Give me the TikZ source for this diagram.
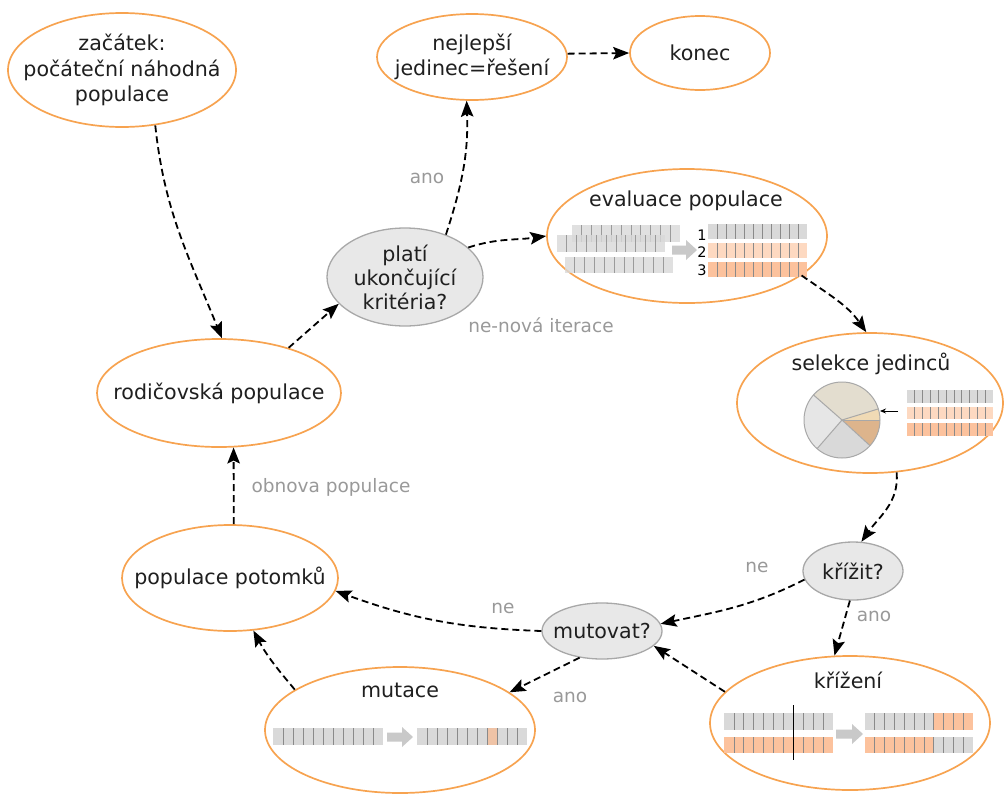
\documentclass[tikz,border=0pt]{standalone}
\usepackage{fontspec}
\setmainfont{DejaVu Sans}
\usetikzlibrary{shapes.geometric,arrows.meta}
\definecolor{orng}{HTML}{F7A350}
\definecolor{qfill}{HTML}{E8E8E8}
\definecolor{qline}{HTML}{A8A8A8}
\definecolor{lbl}{HTML}{999999}
\definecolor{cg}{HTML}{D9D9D9}
\definecolor{cp}{HTML}{FDD9C1}
\definecolor{co}{HTML}{FCC29D}
\definecolor{cmut}{HTML}{EFC3A6}
\definecolor{sepc}{HTML}{8A8A8A}
\definecolor{barr}{HTML}{C9C9C9}
\definecolor{pa}{HTML}{E3DDCF}
\definecolor{pb}{HTML}{F0DAB5}
\definecolor{pc}{HTML}{DDB48C}
\definecolor{pd}{HTML}{D9D9D9}
\definecolor{pe}{HTML}{E6E6E6}
\newcommand{\chrbar}[5]{%
  \foreach \cc [count=\ii from 0] in {#5} {
    \fill[fill=\cc] ({#1+\ii*#3/11},{-#2}) rectangle ++({#3/11},{-#4});
  }
  \foreach \ii in {1,...,10} {
    \draw[sepc, line width=0.7pt] ({#1+\ii*#3/11},{-#2}) -- ++(0,{-#4});
  }
}
\newcommand{\blockarr}[3]{%
  \fill[barr] (#1,{-#3+4.5}) -- ({#2-11},{-#3+4.5}) -- ({#2-11},{-#3+10}) -- (#2,{-#3})
   -- ({#2-11},{-#3-10}) -- ({#2-11},{-#3-4.5}) -- (#1,{-#3-4.5}) -- cycle;}
\tikzset{
  box/.style={ellipse, draw=orng, line width=1.7pt, fill=white, inner sep=0pt},
  ques/.style={ellipse, draw=qline, fill=qfill, line width=1.3pt, inner sep=0pt},
  txt/.style={align=center, text=black!88, font=\fontsize{20.6}{25.5}\selectfont, inner sep=0pt},
  ttl/.style={anchor=base, text=black!88, font=\fontsize{20.6}{25}\selectfont, inner sep=0pt},
  arr/.style={dash pattern=on 7pt off 4pt, line width=1.8pt, -{Stealth[length=16pt,width=12.5pt,inset=3pt]}},
  lab/.style={text=lbl, font=\fontsize{18.5}{22}\selectfont, inner sep=0pt},
  num/.style={anchor=base, font=\fontsize{14.5}{16}\selectfont, inner sep=0pt},
}
\begin{document}
\begin{tikzpicture}[x=1pt,y=1pt]
\useasboundingbox (0,0) rectangle (1004,-793);
% ellipses
\node[box, minimum width=228pt, minimum height=114pt] (start) at (122,-70) {};
\node[box, minimum width=244pt, minimum height=108pt] (rodic) at (219,-393) {};
\node[box, minimum width=190pt, minimum height=86pt] (best) at (472,-57) {};
\node[box, minimum width=140pt, minimum height=74pt] (konec) at (700,-53) {};
\node[ques, minimum width=156pt, minimum height=98pt] (plati) at (405,-277) {};
\node[box, minimum width=280pt, minimum height=134pt] (eval) at (687,-236) {};
\node[box, minimum width=266pt, minimum height=140pt] (sel) at (870,-403) {};
\node[ques, minimum width=100pt, minimum height=58pt] (krizit) at (853,-571) {};
\node[ques, minimum width=120pt, minimum height=56pt] (mutovat) at (602,-631) {};
\node[box, minimum width=280pt, minimum height=134pt] (krizeni) at (850,-723) {};
\node[box, minimum width=270pt, minimum height=126pt] (mutace) at (400,-730) {};
\node[box, minimum width=216pt, minimum height=106pt] (potomku) at (230,-578) {};
% texts
\node[txt] (startT) at (start) {začátek:\\počáteční náhodná\\populace};
\node[txt] (rodicT) at (rodic) {rodičovská populace};
\node[txt] (bestT) at (best) {nejlepší\\jedinec=řešení};
\node[txt] (konecT) at (konec) {konec};
\node[txt, font=\fontsize{20.6}{24}\selectfont] (platiT) at (plati) {platí\\ukončující\\kritéria?};
\node[txt] (krizitT) at (krizit) {křížit?};
\node[txt] (mutovatT) at (mutovat) {mutovat?};
\node[txt] (potomkuT) at (potomku) {populace potomků};
\node[ttl] (evalT) at (686,-206) {evaluace populace};
\node[ttl] (selT) at (871,-370) {selekce jedinců};
\node[ttl] (krizeniT) at (848,-688) {křížení};
\node[ttl] (mutaceT) at (400,-697) {mutace};
% evaluation graphics
\begin{scope}[opacity=0.8]
\chrbar{572}{225}{108}{17}{cg,cg,cg,cg,cg,cg,cg,cg,cg,cg,cg}
\chrbar{557}{235}{108}{17}{cg,cg,cg,cg,cg,cg,cg,cg,cg,cg,cg}
\chrbar{565}{257}{108}{16}{cg,cg,cg,cg,cg,cg,cg,cg,cg,cg,cg}
\end{scope}
\blockarr{672}{697}{250}
\node[num] (n1) at (702,-240) {1};
\node[num] (n2) at (702,-257) {2};
\node[num] (n3) at (702,-275) {3};
\chrbar{708}{224}{99}{15}{cg,cg,cg,cg,cg,cg,cg,cg,cg,cg,cg}
\chrbar{708}{243}{99}{15}{cp,cp,cp,cp,cp,cp,cp,cp,cp,cp,cp}
\chrbar{708}{262}{99}{15}{co,co,co,co,co,co,co,co,co,co,co}
% selection graphics
\begin{scope}[shift={(842,-420)}]
\fill[pa] (0,0) -- (17:38) arc[start angle=17,end angle=138.7,radius=38] -- cycle;
\fill[pb] (0,0) -- (0:38) arc[start angle=0,end angle=17,radius=38] -- cycle;
\fill[pc] (0,0) -- (-42.5:38) arc[start angle=-42.5,end angle=0,radius=38] -- cycle;
\fill[pd] (0,0) -- (-131:38) arc[start angle=-131,end angle=-42.5,radius=38] -- cycle;
\fill[pe] (0,0) -- (138.7:38) arc[start angle=138.7,end angle=229,radius=38] -- cycle;
\draw[qline, line width=1pt] (0,0) circle[radius=38];
\foreach \aa in {17,0,-42.5,-131,138.7} {\draw[qline, line width=1pt] (0,0) -- (\aa:38);}
\end{scope}
\coordinate (selA) at (898,-411);
\coordinate (selB) at (880,-411);
\draw[line width=0.9pt, -{Stealth[length=6pt,width=5pt]}] (selA) -- (selB);
\chrbar{907}{390}{86}{13}{cg,cg,cg,cg,cg,cg,cg,cg,cg,cg,cg}
\chrbar{907}{407}{86}{12}{cp,cp,cp,cp,cp,cp,cp,cp,cp,cp,cp}
\chrbar{907}{423}{86}{13}{co,co,co,co,co,co,co,co,co,co,co}
% crossover graphics
\chrbar{724}{713}{109}{17}{cg,cg,cg,cg,cg,cg,cg,cg,cg,cg,cg}
\chrbar{724}{737}{109}{16}{co,co,co,co,co,co,co,co,co,co,co}
\coordinate (cutA) at (793,-705);
\coordinate (cutB) at (793,-760);
\draw[line width=1pt] (cutA) -- (cutB);
\blockarr{836}{863}{734}
\chrbar{865}{713}{108}{17}{cg,cg,cg,cg,cg,cg,cg,co,co,co,co}
\chrbar{865}{737}{108}{16}{co,co,co,co,co,co,co,cg,cg,cg,cg}
% mutation graphics
\chrbar{273}{728}{110}{17}{cg,cg,cg,cg,cg,cg,cg,cg,cg,cg,cg}
\blockarr{387}{413}{737}
\chrbar{417}{728}{110}{17}{cg,cg,cg,cg,cg,cg,cg,cmut,cg,cg,cg}
% connectors
\draw[arr] (start.-59) to[out=-84,in=112] (rodic.87);
\draw[arr] (rodic.33) -- (plati.202);
\draw[arr] (plati.46) to[out=72,in=-88] (best.-97);
\draw[arr] (best.2) -- (konec.180);
\draw[arr] (plati.25) to[out=18,in=188] (eval.180);
\draw[arr] (eval.-19) to[out=-35,in=125] (sel.93);
\draw[arr] (sel.-69) to[out=-85,in=55] (krizit.74);
\draw[arr] (krizit.190) to[out=207,in=12] (mutovat.7);
\draw[arr] (krizit.-96) -- (krizeni.103);
\draw[arr] (krizeni.166) -- (mutovat.-16);
\draw[arr] (mutovat.180) to[out=178,in=-20] (potomku.-7);
\draw[arr] (mutovat.-130) -- (mutace.19);
\draw[arr] (mutace.159) to[out=130,in=-62] (potomku.-66);
\draw[arr] (potomku.86) -- (rodic.-75);
% labels
\node[lab] (l1) at (427,-178) {ano};
\node[lab] (l2) at (541,-325) {ne-nová iterace};
\node[lab] (l3) at (331,-487) {obnova populace};
\node[lab] (l4) at (757,-567) {ne};
\node[lab] (l5) at (874,-616) {ano};
\node[lab] (l6) at (503,-608) {ne};
\node[lab] (l7) at (570,-697) {ano};
\end{tikzpicture}
\end{document}
